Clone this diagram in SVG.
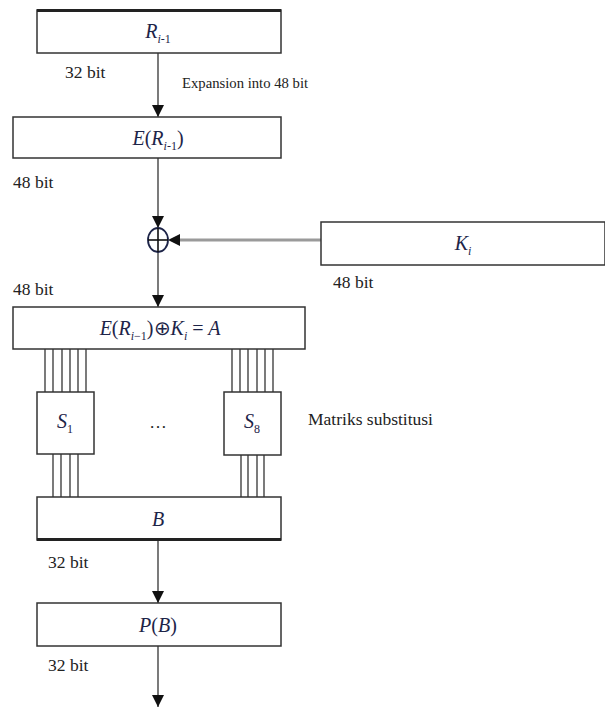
<svg xmlns="http://www.w3.org/2000/svg" width="605" height="708" viewBox="0 0 605 708" font-family="'Liberation Serif','Times New Roman',serif">
<style>
.box{fill:#fff;stroke:#333;stroke-width:1.5}
.thick{stroke:#222;stroke-width:3}
.wire{stroke:#333;stroke-width:1.3}
.line{stroke:#333;stroke-width:1.3;fill:none}
.lbl{font-family:'Liberation Serif','Times New Roman',serif;font-size:17.5px;fill:#222}
.small{font-family:'Liberation Serif','Times New Roman',serif;font-size:14.7px;fill:#222}
.math{font-family:'Liberation Serif','Times New Roman',serif;font-size:20px;font-style:italic;fill:#1d2448;text-anchor:middle}
.sub{font-size:12px}
.up{font-style:normal}
</style>
<defs>
<marker id="ah" markerUnits="userSpaceOnUse" markerWidth="12" markerHeight="14" refX="12" refY="6" orient="auto">
<path d="M0,0 L12,6 L0,12 Z" fill="#111"/>
</marker>
</defs>

<g id="connectors">
<line class="line" x1="158" y1="53" x2="158" y2="117" marker-end="url(#ah)"/>
<line class="line" x1="158" y1="158" x2="158" y2="228" marker-end="url(#ah)"/>
<line x1="321" y1="240" x2="174" y2="240" stroke="#9a9a9a" stroke-width="3"/>
<path d="M180,234 L168,240 L180,246 Z" fill="#111"/>
<line class="line" x1="158" y1="252" x2="158" y2="307" marker-end="url(#ah)"/>
<line class="line" x1="158" y1="540" x2="158" y2="603" marker-end="url(#ah)"/>
<line class="line" x1="158" y1="646" x2="158" y2="707" marker-end="url(#ah)"/>
<g id="wires-s1-in">
<line class="wire" x1="45" y1="349" x2="45" y2="392"/>
<line class="wire" x1="53" y1="349" x2="53" y2="392"/>
<line class="wire" x1="62" y1="349" x2="62" y2="392"/>
<line class="wire" x1="70" y1="349" x2="70" y2="392"/>
<line class="wire" x1="78" y1="349" x2="78" y2="392"/>
<line class="wire" x1="86" y1="349" x2="86" y2="392"/>
</g>
<g id="wires-s8-in">
<line class="wire" x1="232" y1="349" x2="232" y2="392"/>
<line class="wire" x1="240" y1="349" x2="240" y2="392"/>
<line class="wire" x1="248" y1="349" x2="248" y2="392"/>
<line class="wire" x1="257" y1="349" x2="257" y2="392"/>
<line class="wire" x1="265" y1="349" x2="265" y2="392"/>
<line class="wire" x1="273" y1="349" x2="273" y2="392"/>
</g>
<g id="wires-s1-out">
<line class="wire" x1="53" y1="454" x2="53" y2="497"/>
<line class="wire" x1="61" y1="454" x2="61" y2="497"/>
<line class="wire" x1="70" y1="454" x2="70" y2="497"/>
<line class="wire" x1="78" y1="454" x2="78" y2="497"/>
</g>
<g id="wires-s8-out">
<line class="wire" x1="241" y1="455" x2="241" y2="497"/>
<line class="wire" x1="248" y1="455" x2="248" y2="497"/>
<line class="wire" x1="257" y1="455" x2="257" y2="497"/>
<line class="wire" x1="264" y1="455" x2="264" y2="497"/>
</g>
</g>

<g id="node-R">
<rect class="box" x="37" y="10" width="244" height="43"/>
<line class="thick" x1="37" y1="10.5" x2="281" y2="10.5"/>
<text class="math" x="158" y="38">R<tspan class="sub" dy="5">i<tspan class="up">-1</tspan></tspan></text>
</g>
<text class="lbl" x="65" y="78">32 bit</text>
<text class="small" x="182" y="88">Expansion into 48 bit</text>

<g id="node-E">
<rect class="box" x="13" y="117" width="268" height="41"/>
<text class="math" x="158" y="145">E<tspan class="up">(</tspan>R<tspan class="sub" dy="5">i<tspan class="up">-1</tspan></tspan><tspan class="up" dy="-5">)</tspan></text>
</g>
<text class="lbl" x="13" y="188">48 bit</text>

<g id="node-xor">
<ellipse cx="158" cy="240" rx="10" ry="12" fill="#fff" stroke="#1d2448" stroke-width="1.8"/>
<line x1="148" y1="240" x2="168" y2="240" stroke="#111" stroke-width="1.6"/>
<line x1="158" y1="228" x2="158" y2="252" stroke="#111" stroke-width="1.6"/>
</g>

<g id="node-K">
<rect class="box" x="321" y="222" width="284" height="43"/>
<text class="math" x="463" y="250">K<tspan class="sub" dy="5">i</tspan></text>
</g>
<text class="lbl" x="333" y="288">48 bit</text>
<text class="lbl" x="13" y="295">48 bit</text>

<g id="node-A">
<rect class="box" x="13" y="307" width="292" height="42"/>
<text class="math" x="160" y="335">E<tspan class="up">(</tspan>R<tspan class="sub" dy="5">i<tspan class="up">−1</tspan></tspan><tspan class="up" dy="-5">)⊕</tspan>K<tspan class="sub" dy="5">i</tspan><tspan dy="-5"> <tspan class="up">=</tspan> A</tspan></text>
</g>

<g id="node-S1">
<rect class="box" x="37" y="392" width="57" height="62"/>
<text class="math" x="65" y="428">S<tspan class="sub up" dy="5">1</tspan></text>
</g>
<text class="lbl" x="158" y="428" text-anchor="middle">…</text>

<g id="node-S8">
<rect class="box" x="224" y="392" width="57" height="63"/>
<text class="math" x="252" y="428">S<tspan class="sub up" dy="5">8</tspan></text>
</g>
<text class="lbl" x="308" y="425">Matriks substitusi</text>

<g id="node-B">
<rect class="box" x="37" y="497" width="244" height="43"/>
<line class="thick" x1="37" y1="539.5" x2="281" y2="539.5"/>
<text class="math" x="158" y="526">B</text>
</g>
<text class="lbl" x="48" y="568">32 bit</text>

<g id="node-P">
<rect class="box" x="37" y="603" width="244" height="43"/>
<text class="math" x="158" y="632">P<tspan class="up">(</tspan>B<tspan class="up">)</tspan></text>
</g>
<text class="lbl" x="48" y="671">32 bit</text>
</svg>
